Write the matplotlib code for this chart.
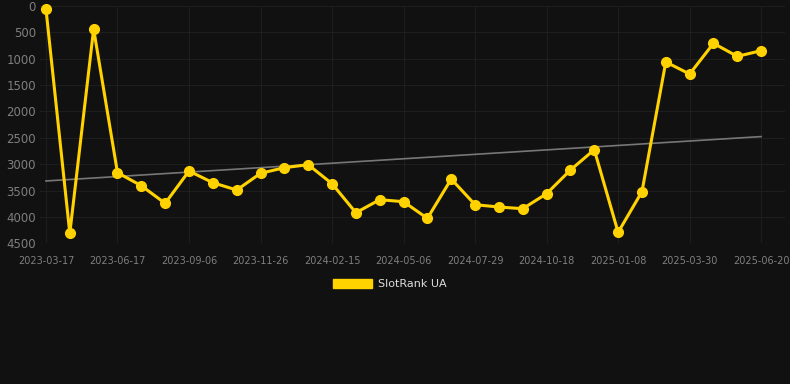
import numpy as np
import matplotlib.pyplot as plt
from matplotlib.patches import Patch

# category labels (one per data point, only every 3rd shown)
dates = ["2023-03-17", "2023-04-17", "2023-05-17", "2023-06-17", "2023-07-14",
         "2023-08-10", "2023-09-06", "2023-10-03", "2023-10-30", "2023-11-26",
         "2023-12-23", "2024-01-19", "2024-02-15", "2024-03-13", "2024-04-09",
         "2024-05-06", "2024-06-03", "2024-07-01", "2024-07-29", "2024-08-25",
         "2024-09-21", "2024-10-18", "2024-11-14", "2024-12-11", "2025-01-08",
         "2025-02-04", "2025-03-03", "2025-03-30", "2025-04-26", "2025-05-23",
         "2025-06-20"]

# SlotRank UA rank values
rank = [57, 4311, 436, 3161, 3408, 3742, 3129, 3351, 3490, 3173,
        3066, 3009, 3370, 3920, 3673, 3711, 4027, 3281, 3768, 3812,
        3844, 3559, 3110, 2725, 4292, 3521, 1062, 1290, 708, 955,
        847]

y_ticks = [0, 500, 1000, 1500, 2000, 2500, 3000, 3500, 4000, 4500]

bg = "#111111"
gold = "#FFD200"

fig = plt.figure(figsize=(7.9, 3.84), dpi=100, facecolor=bg)
ax = fig.add_axes([40 / 790, 1 - 243.3 / 384, 745 / 790, 237.3 / 384])
ax.set_facecolor(bg)

x = np.arange(len(rank))

# trend line (least squares fit)
coef = np.polyfit(x, rank, 1)
ax.plot(x, np.polyval(coef, x), color="#777777", lw=1.2, zorder=2)

ax.plot(x, rank, color=gold, lw=2.2, marker="o", markersize=7,
        solid_joinstyle="miter", zorder=3, clip_on=False)

ax.set_xlim(-0.25, 31.0)
ax.set_ylim(4500, 0)
ax.set_yticks(y_ticks)
ax.set_xticks(x[::3])
ax.set_xticklabels(dates[::3])

ax.grid(True, color="#1e1e1e", lw=0.8)
ax.axhline(4500, color="#2a2a2a", lw=0.8, zorder=1)
ax.set_axisbelow(True)
for s in ax.spines.values():
    s.set_visible(False)
ax.tick_params(axis="both", length=0, colors="#7f7f7f")
ax.tick_params(axis="y", labelsize=8.5, pad=3)
ax.tick_params(axis="x", labelsize=7, pad=9)

handle = Patch(facecolor=gold, edgecolor=gold)
leg = fig.legend([handle], ["SlotRank UA"], loc="center",
                 bbox_to_anchor=(390 / 790, 1 - 284 / 384), frameon=False,
                 fontsize=8, handlelength=3.5, handleheight=0.9,
                 handletextpad=0.5)
for t in leg.get_texts():
    t.set_color("#dddddd")

fig.savefig("out.png", dpi=100, facecolor=bg)
